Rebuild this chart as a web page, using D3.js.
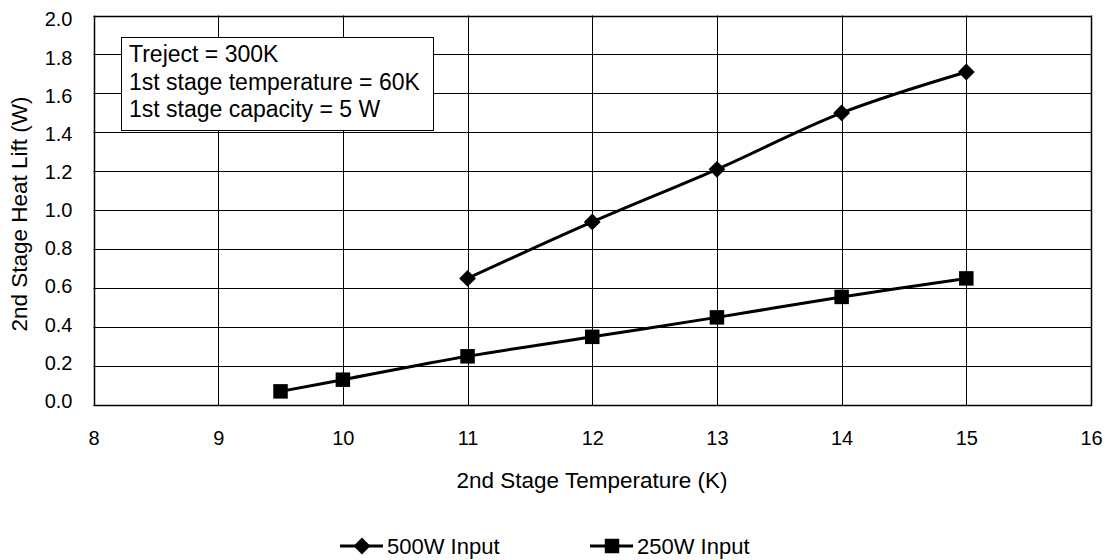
<!DOCTYPE html>
<html>
<head>
<meta charset="utf-8">
<script src="https://cdn.jsdelivr.net/npm/d3@7"></script>
<style>
  body { margin: 0; background: #fff; }
  text { font-family: "Liberation Sans", Arial, sans-serif; fill: #000; }
</style>
</head>
<body>
<svg id="chart" width="1105" height="560"></svg>
<script>
// data
var xTicks = [8, 9, 10, 11, 12, 13, 14, 15, 16];
var yTicks = [0, 0.2, 0.4, 0.6, 0.8, 1.0, 1.2, 1.4, 1.6, 1.8, 2.0];

var temps500 = [11, 12, 13, 14, 15];
var lift500 = [0.65, 0.94, 1.21, 1.50, 1.71];

var temps250 = [9.5, 10, 11, 12, 13, 14, 15];
var lift250 = [0.07, 0.13, 0.25, 0.35, 0.45, 0.555, 0.65];

var seriesNames = ['500W Input', '250W Input'];
var notes = ['Treject = 300K', '1st stage temperature = 60K', '1st stage capacity = 5 W'];

var pLeft = 93.5, pRight = 1091, pTop = 15.5, pBottom = 405;
var fontFam = '"Liberation Sans", Arial, sans-serif';

var svg = d3.select('#chart');

var x = d3.scaleLinear().domain([8, 16]).range([pLeft, pRight]);
var y = d3.scaleLinear().domain([0, 2]).range([pBottom, pTop]);
// tick labels sit a touch inside the gridlines in the original
var yLab = d3.scaleLinear().domain([0, 2]).range([pBottom - 4, pTop + 4]);

// gridlines
svg.append('g').selectAll('line')
   .data(xTicks)
   .enter().append('line')
   .attr('x1', function(d){ return Math.round(x(d)) + 0.5; })
   .attr('x2', function(d){ return Math.round(x(d)) + 0.5; })
   .attr('y1', pTop).attr('y2', pBottom)
   .attr('stroke', '#000').attr('stroke-width', 1);

svg.append('g').selectAll('line')
   .data(yTicks)
   .enter().append('line')
   .attr('y1', function(d){ return Math.round(y(d)) + 0.5; })
   .attr('y2', function(d){ return Math.round(y(d)) + 0.5; })
   .attr('x1', pLeft).attr('x2', pRight)
   .attr('stroke', '#000').attr('stroke-width', 1);

// plot frame
svg.append('rect')
   .attr('x', Math.round(pLeft) + 0.5).attr('y', Math.round(pTop) + 0.5)
   .attr('width', Math.round(pRight) - Math.round(pLeft))
   .attr('height', Math.round(pBottom) - Math.round(pTop))
   .attr('fill', 'none').attr('stroke', '#000').attr('stroke-width', 1.5);

// tick labels via d3 axes (no domain, no tick marks)
var xAxis = svg.append('g')
   .attr('transform', 'translate(0,' + pBottom + ')')
   .call(d3.axisBottom(x).tickValues(xTicks).tickSize(0).tickPadding(26).tickFormat(d3.format('d')));
xAxis.select('.domain').remove();
xAxis.selectAll('text').style('font-size', '20px').style('font-family', fontFam).attr('fill', '#000');

var yAxis = svg.append('g')
   .attr('transform', 'translate(' + pLeft + ',0)')
   .call(d3.axisLeft(yLab).tickValues(yTicks).tickSize(0).tickPadding(21).tickFormat(d3.format('.1f')));
yAxis.select('.domain').remove();
yAxis.selectAll('text').style('font-size', '20px').style('font-family', fontFam).attr('fill', '#000');

// axis titles
svg.append('text')
   .attr('x', 592).attr('y', 488)
   .attr('text-anchor', 'middle').style('font-size', '22.5px')
   .text('2nd Stage Temperature (K)');

svg.append('text')
   .attr('transform', 'translate(27,214) rotate(-90)')
   .attr('text-anchor', 'middle').style('font-size', '22.5px')
   .text('2nd Stage Heat Lift (W)');

// lines
var line = d3.line()
   .x(function(d){ return x(d[0]); })
   .y(function(d){ return y(d[1]); })
   .curve(d3.curveCatmullRom.alpha(0.5));

var data500 = temps500.map(function(t, i){ return [t, lift500[i]]; });
var data250 = temps250.map(function(t, i){ return [t, lift250[i]]; });

svg.append('path').datum(data500).attr('d', line)
   .attr('fill', 'none').attr('stroke', '#000').attr('stroke-width', 3);
svg.append('path').datum(data250).attr('d', line)
   .attr('fill', 'none').attr('stroke', '#000').attr('stroke-width', 3);

var diamond = d3.symbol().type(d3.symbolDiamond2).size(180);
var square = d3.symbol().type(d3.symbolSquare).size(210);

svg.append('g').selectAll('path')
   .data(data500).enter().append('path')
   .attr('d', diamond)
   .attr('transform', function(d){ return 'translate(' + x(d[0]) + ',' + y(d[1]) + ')'; })
   .attr('fill', '#000');

svg.append('g').selectAll('path')
   .data(data250).enter().append('path')
   .attr('d', square)
   .attr('transform', function(d){ return 'translate(' + x(d[0]) + ',' + y(d[1]) + ')'; })
   .attr('fill', '#000');

// note box
var box = svg.append('g');
box.append('rect')
   .attr('x', 121.5).attr('y', 37.5).attr('width', 312).attr('height', 93)
   .attr('fill', '#fff').attr('stroke', '#000').attr('stroke-width', 1);
box.selectAll('text')
   .data(notes).enter().append('text')
   .attr('x', 129)
   .attr('y', function(d, i){ return 62 + i * 27.5; })
   .style('font-size', '23px')
   .text(function(d){ return d; });

// legend
var legend = svg.append('g');
var legendX = [340, 590];
var legendSym = [diamond, square];
seriesNames.forEach(function(name, i){
  var g = legend.append('g').attr('transform', 'translate(' + legendX[i] + ',546)');
  g.append('line').attr('x1', 0).attr('x2', 43).attr('y1', 0).attr('y2', 0)
   .attr('stroke', '#000').attr('stroke-width', 3);
  g.append('path').attr('d', legendSym[i]).attr('transform', 'translate(22,0)').attr('fill', '#000');
  g.append('text').attr('x', 47).attr('y', 8).style('font-size', '22px').text(name);
});
</script>
</body>
</html>
